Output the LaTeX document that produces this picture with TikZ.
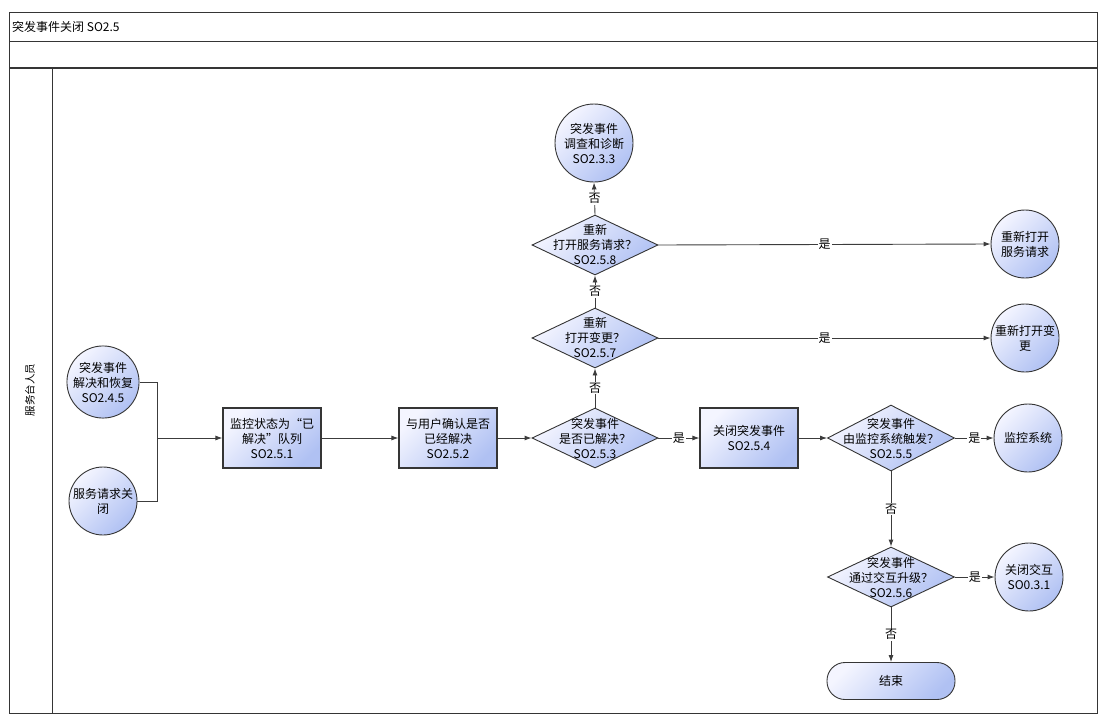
\documentclass[tikz,border=0pt]{standalone}
\usepackage{fontspec}
\setmainfont{Noto Sans CJK SC}
\usetikzlibrary{shapes.geometric,arrows.meta}
\definecolor{cl}{HTML}{F4F5FF}
\definecolor{cd}{HTML}{B0C1F3}
\definecolor{edgec}{HTML}{353535}
\definecolor{lnc}{HTML}{3C3C3C}
\newcommand\myfs{\fontsize{12}{15}\selectfont}
\begin{document}
\begin{tikzpicture}[x=1pt,y=-1pt,
 grad/.style={top color=cl, bottom color=cd, shading angle=45},
 box/.style={grad, draw=edgec, line width=1.1pt, minimum width=98pt, minimum height=60pt, inner sep=0pt, align=center, font=\myfs},
 circ/.style={grad, draw=edgec, line width=0.9pt, circle, minimum size=68pt, inner sep=0pt, align=center, font=\myfs},
 dia/.style={grad, draw=edgec, line width=0.9pt, diamond, minimum width=126pt, minimum height=60pt, inner sep=0pt},
 term/.style={grad, draw=edgec, line width=0.9pt, rounded corners=18pt, minimum width=128pt, minimum height=37pt, inner sep=0pt, font=\myfs},
 txt/.style={align=center, font=\myfs, inner sep=0pt},
 conn/.style={draw=lnc, line width=0.9pt, -{Latex[length=7pt,width=5pt]}},
 plain/.style={draw=lnc, line width=0.9pt},
 lbl/.style={fill=white, inner sep=1pt, font=\myfs},
]
\useasboundingbox (0,0) rectangle (1110,723);
% frame
\draw[edgec, line width=1pt] (9,12) rectangle (1097,713);
\draw[edgec, line width=0.8pt] (9,41) -- (1097,41);
\draw[edgec, line width=1.4pt] (9,68) -- (1097,68);
\draw[edgec, line width=1pt] (52,68) -- (52,713);
\node[anchor=west, font=\myfs, inner sep=0pt] (title) at (12,27) {突发事件关闭 SO2.5};
\node[rotate=90, font=\fontsize{10.5}{13}\selectfont, inner sep=0pt] (lane) at (30,390) {服务台人员};

% nodes
\node[circ, minimum size=70pt] (ca) at (103,382) {突发事件\\解决和恢复\\SO2.4.5};
\node[circ] (cb) at (103,501) {服务请求关\\闭};
\coordinate (j) at (157,438);
\node[box] (b1) at (272,438) {监控状态为“已\\解决”队列\\SO2.5.1};
\node[box] (b2) at (448,438) {与用户确认是否\\已经解决\\SO2.5.2};
\node[dia] (d3) at (595,438) {};
\node[txt] (d3t) at (d3) {突发事件\\是否已解决？\\SO2.5.3};
\node[box] (b4) at (749,438) {关闭突发事件\\SO2.5.4};
\node[dia, minimum height=66pt, minimum width=127pt] (d5) at (891,438) {};
\node[txt] (d5t) at (d5) {突发事件\\由监控系统触发？\\SO2.5.5};
\node[circ] (cm) at (1028,438) {监控系统};
\node[dia, minimum width=127pt] (d6) at (891,577) {};
\node[txt] (d6t) at (d6) {突发事件\\通过交互升级？\\SO2.5.6};
\node[circ] (cc) at (1029,577) {关闭交互\\SO0.3.1};
\node[term] (end) at (891,681) {结束};
\node[dia] (d7) at (595,338) {};
\node[txt] (d7t) at (d7) {重新\\打开变更？\\SO2.5.7};
\node[dia] (d8) at (595,245) {};
\node[txt] (d8t) at (d8) {重新\\打开服务请求？\\SO2.5.8};
\node[circ, minimum size=78pt] (ct) at (594,143) {突发事件\\调查和诊断\\SO2.3.3};
\node[circ] (cr1) at (1025,244) {重新打开\\服务请求};
\node[circ] (cr2) at (1025,338) {重新打开变\\更};

% connectors
\draw[plain] (ca.east) -| (j);
\draw[plain] (cb.east) -| (j);
\draw[conn] (j) -- (b1.west);
\draw[conn] (b1.east) -- (b2.west);
\draw[conn] (b2.east) -- (d3.west);
\draw[conn] (d3.east) -- node[lbl]{是} (b4.west);
\draw[conn] (b4.east) -- (d5.west);
\draw[conn] (d5.east) -- node[lbl]{是} (cm.west);
\draw[conn] (d5.south) -- node[lbl]{否} (d6.north);
\draw[conn] (d6.east) -- node[lbl]{是} (cc.west);
\draw[conn] (d6.south) -- node[lbl]{否} (end.north);
\draw[conn] (d3.north) -- node[lbl]{否} (d7.south);
\draw[conn] (d7.north) -- node[lbl]{否} (d8.south);
\draw[conn] (d8.north) -- node[lbl]{否} (ct.south);
\draw[conn] (d8.east) -- node[lbl]{是} (cr1.west);
\draw[conn] (d7.east) -- node[lbl]{是} (cr2.west);
\end{tikzpicture}
\end{document}
